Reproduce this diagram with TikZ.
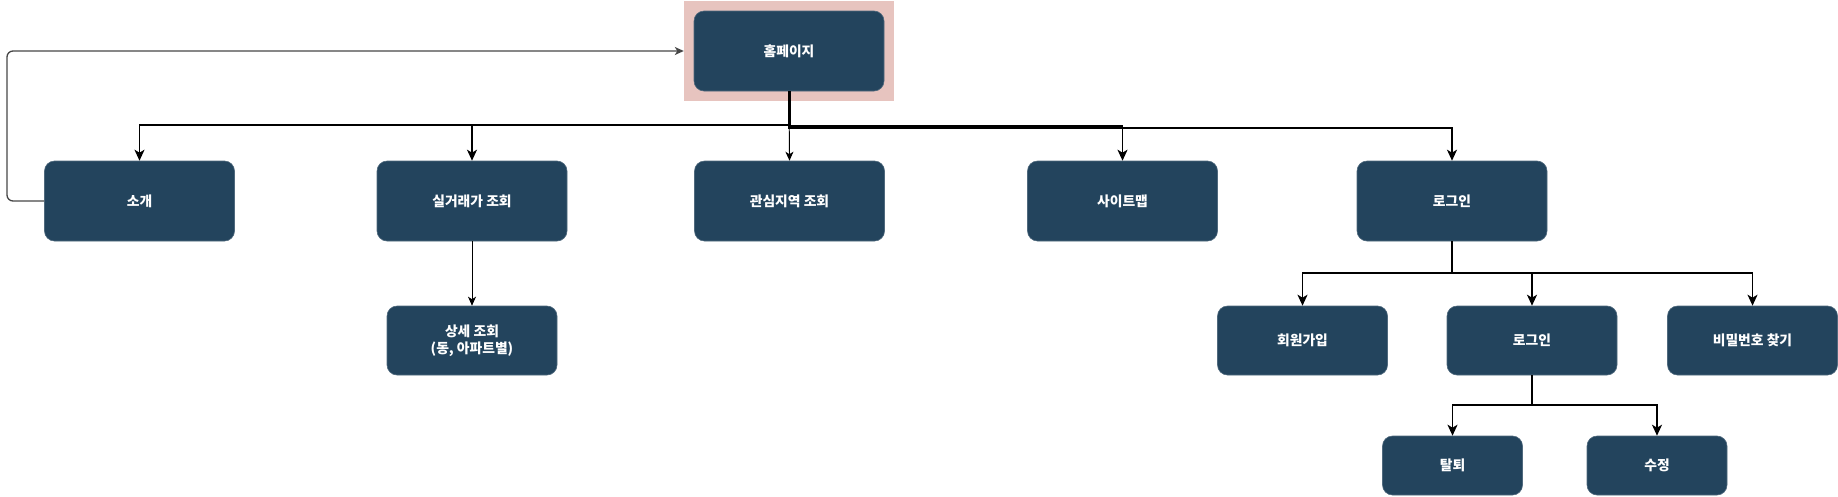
\documentclass[tikz,border=0pt]{standalone}
\usepackage{fontspec}
\setmainfont{Noto Sans CJK KR}
\usetikzlibrary{arrows.meta}
\definecolor{boxfill}{RGB}{35,68,93}
\definecolor{homebg}{RGB}{231,196,191}
\definecolor{backline}{RGB}{70,70,70}
\tikzstyle{menu} = [draw=boxfill!80!white, line width=0.6pt, fill=boxfill, rounded corners=10pt,
    text=white, font=\fontsize{13.8}{17}\selectfont\bfseries, align=center, inner sep=0pt]
\tikzstyle{branch} = [line width=1.8pt, -{Stealth[length=11pt,width=10pt,inset=3pt]}]
\tikzstyle{thin} = [line width=0.9pt, -{Stealth[length=9pt,width=8pt,inset=2.5pt]}]

\begin{document}
\begin{tikzpicture}[x=1pt, y=-1pt]
            \useasboundingbox (0,0) rectangle (1838,496);
            % home page and its highlight
            \node[fill=homebg, minimum width=210pt, minimum height=100pt, inner sep=0pt] (homehl) at (789,51) {};
            \node[menu, minimum width=190pt, minimum height=80pt] (home) at (789,51) {홈페이지};

            % first level
            \node[menu, minimum width=190pt, minimum height=80pt] (intro) at (139.5,201) {소개};
            \node[menu, minimum width=190pt, minimum height=80pt] (deal) at (472,201) {실거래가 조회};
            \node[menu, minimum width=190pt, minimum height=80pt] (area) at (789.5,201) {관심지역 조회};
            \node[menu, minimum width=190pt, minimum height=80pt] (sitemap) at (1122.5,201) {사이트맵};
            \node[menu, minimum width=190pt, minimum height=80pt] (login) at (1452,201) {로그인};

            % second level
            \node[menu, minimum width=170pt, minimum height=69pt] (detail) at (472,340.5) {상세 조회\\(동, 아파트별)};
            \node[menu, minimum width=170pt, minimum height=69pt] (join) at (1302.5,340.5) {회원가입};
            \node[menu, minimum width=170pt, minimum height=69pt] (signin) at (1532,340.5) {로그인};
            \node[menu, minimum width=170pt, minimum height=69pt] (findpw) at (1752.5,340.5) {비밀번호 찾기};

            % third level
            \node[menu, minimum width=140pt, minimum height=59pt] (quit) at (1452.5,465.5) {탈퇴};
            \node[menu, minimum width=140pt, minimum height=59pt] (modify) at (1657,465.5) {수정};

            \draw[line width=3pt] (home.south) -- ++(0,35);
            \draw[branch] (home.south) -- ++(0,34) -| (intro.north);
            \draw[branch] (home.south) -- ++(0,34) -| (deal.north);
            \draw[thin] (home.south) -- (area.north);
            \draw[branch] (home.south) -- ++(0,34.5) -| (sitemap.north);
            \draw[branch] (home.south) -- ++(0,36.5) -| (login.north);

            \draw[thin] (deal.south) -- (detail.north);

            \draw[line width=2.4pt] (login.south) -- ++(0,32);
            \draw[branch] (login.south) -- ++(0,32) -| (join.north);
            \draw[branch] (login.south) -- ++(0,32) -| (signin.north);
            \draw[branch] (login.south) -- ++(0,32) -| (findpw.north);

            \draw[line width=2.4pt] (signin.south) -- ++(0,30);
            \draw[branch] (signin.south) -- ++(0,30) -| (quit.north);
            \draw[branch] (signin.south) -- ++(0,30) -| (modify.north);

            % back to the home page
            \draw[backline, line width=1.3pt, rounded corners=6pt, -{Stealth[length=9pt,width=8pt,inset=2.5pt]}]
                (intro.west) -| (7,51) -- (homehl.west);
        \end{tikzpicture}
\end{document}
